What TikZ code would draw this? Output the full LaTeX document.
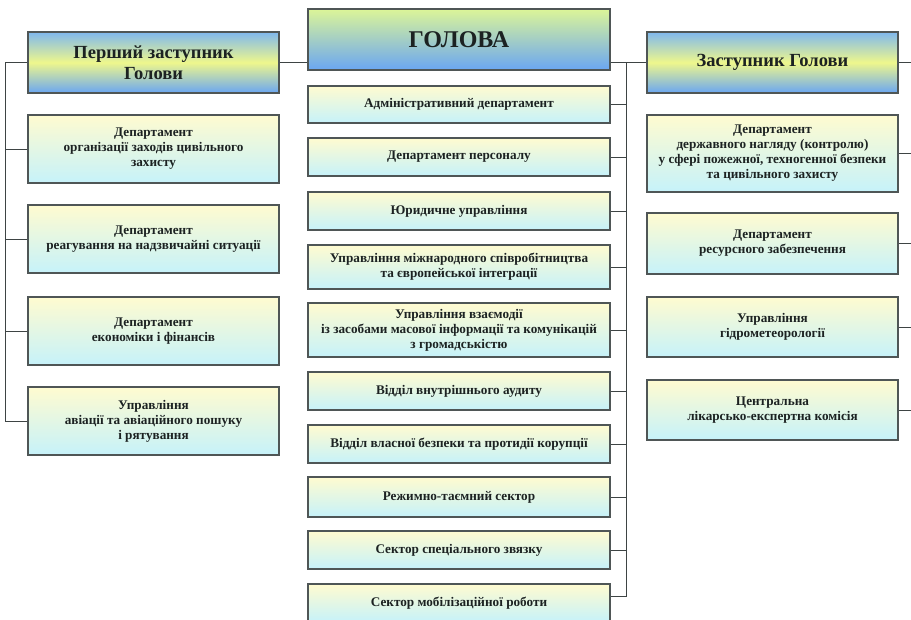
\documentclass[tikz,border=0pt]{standalone}
\usepackage{fontspec}
\setmainfont{Liberation Serif}
\usetikzlibrary{calc}
\definecolor{boxtop}{HTML}{FFFBD0}
\definecolor{boxbot}{HTML}{C6F2FA}
\definecolor{hdblue}{HTML}{6AA6F2}
\definecolor{hdblue2}{HTML}{7FB8EE}
\definecolor{hdyel}{HTML}{EEF78C}
\definecolor{hdgreen}{HTML}{DCF598}
\definecolor{framec}{HTML}{4F5656}
\definecolor{linec}{HTML}{3E4444}
\definecolor{txt}{HTML}{1C2222}
\tikzset{
  x=1pt, y=-1pt,
  dept/.style={draw=framec, line width=1.4pt, top color=boxtop, bottom color=boxbot,
    align=center, inner sep=2pt, text=txt,
    font=\bfseries\fontsize{13.2}{15}\selectfont},
  sidehead/.style={draw=framec, line width=1.4pt, top color=hdblue2, bottom color=hdblue, middle color=hdyel,
    align=center, inner sep=2pt, text=txt,
    font=\bfseries\fontsize{18.5}{21.5}\selectfont},
  mainhead/.style={draw=framec, line width=1.4pt, top color=hdgreen, bottom color=hdblue,
    align=center, inner sep=2pt, text=txt,
    font=\bfseries\fontsize{24}{28}\selectfont},
  conn/.style={draw=linec, line width=1pt},
}
\begin{document}
\begin{tikzpicture}
\useasboundingbox (0,0) rectangle (911,619);
\clip (0,0) rectangle (911,619);
\fill[white] (0,0) rectangle (911,619);

% left column
\node[sidehead, minimum width=251, minimum height=61] (L0) at (153.5,62.5) {Перший заступник\\Голови};
\node[dept, minimum width=251, minimum height=68] (L1) at (153.5,149) {Департамент\\організації заходів цивільного\\захисту};
\node[dept, minimum width=251, minimum height=68] (L2) at (153.5,239) {Департамент\\реагування на надзвичайні ситуації};
\node[dept, minimum width=251, minimum height=68] (L3) at (153.5,331) {Департамент\\економіки і фінансів};
\node[dept, minimum width=251, minimum height=68] (L4) at (153.5,421) {Управління\\авіації та авіаційного пошуку\\і рятування};

% center column
\node[mainhead, minimum width=302, minimum height=61] (C0) at (459,39.5) {ГОЛОВА};
\node[dept, minimum width=302, minimum height=37] (C1) at (459,104.5) {Адміністративний департамент};
\node[dept, minimum width=302, minimum height=38] (C2) at (459,157) {Департамент персоналу};
\node[dept, minimum width=302, minimum height=38] (C3) at (459,211) {Юридичне управління};
\node[dept, minimum width=302, minimum height=44] (C4) at (459,267) {Управління міжнародного співробітництва\\та європейської інтеграції};
\node[dept, minimum width=302, minimum height=54] (C5) at (459,330) {Управління взаємодії\\із засобами масової інформації та комунікацій\\з громадськістю};
\node[dept, minimum width=302, minimum height=38] (C6) at (459,391) {Відділ внутрішнього аудиту};
\node[dept, minimum width=302, minimum height=38] (C7) at (459,444) {Відділ власної безпеки та протидії корупції};
\node[dept, minimum width=302, minimum height=40] (C8) at (459,497) {Режимно-таємний сектор};
\node[dept, minimum width=302, minimum height=38] (C9) at (459,550) {Сектор спеціального звязку};
\node[dept, minimum width=302, minimum height=38] (C10) at (459,603) {\raisebox{3pt}{Сектор мобілізаційної роботи}};

% right column
\node[sidehead, minimum width=251, minimum height=61] (R0) at (772.5,62.5) {Заступник Голови};
\node[dept, minimum width=251, minimum height=77] (R1) at (772.5,153.5) {Департамент\\державного нагляду (контролю)\\у сфері пожежної, техногенної безпеки\\та цивільного захисту};
\node[dept, minimum width=251, minimum height=61] (R2) at (772.5,243.5) {Департамент\\ресурсного забезпечення};
\node[dept, minimum width=251, minimum height=60] (R3) at (772.5,327) {Управління\\гідрометеорології};
\node[dept, minimum width=251, minimum height=60] (R4) at (772.5,410) {Центральна\\лікарсько-експертна комісія};

% helper coordinates
\coordinate (lsp) at (5,0);
\coordinate (csp) at (626,0);
\coordinate (edgeR) at (915,0);
\coordinate (c10s) at ($(C10.north east)+(0,13)$);

% left connectors
\draw[conn] (L0.west) -- (L0.west -| lsp) -- (L4.west -| lsp) -- (L4.west);
\foreach \n in {L1,L2,L3} \draw[conn] (\n.west) -- (\n.west -| lsp);
\draw[conn] (L0.east) -- (L0.east -| C0.west);

% center connectors
\draw[conn] (C0.east |- R0.west) -- (R0.west);
\draw[conn] (R0.west -| csp) -- (c10s -| csp) -- (c10s);
\foreach \n in {C1,C2,C3,C4,C5,C6,C7,C8,C9} \draw[conn] (\n.east) -- (\n.east -| csp);

% right connectors
\foreach \n in {R0,R1,R2,R3,R4} \draw[conn] (\n.east) -- (\n.east -| edgeR);
\end{tikzpicture}
\end{document}
